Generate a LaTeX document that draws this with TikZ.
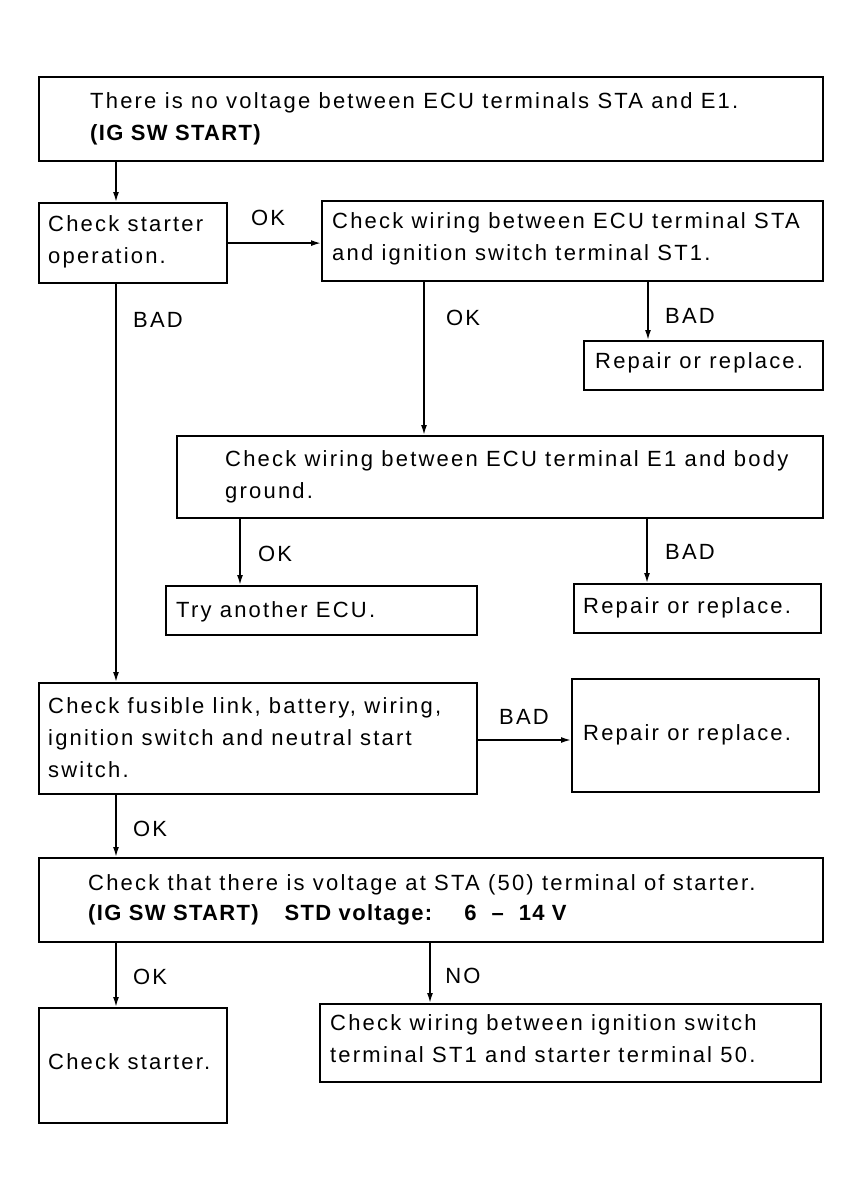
\documentclass[tikz,border=0pt]{standalone}
\usepackage{fontspec}
\setmainfont{Liberation Sans}[LetterSpace=10, BoldFeatures={LetterSpace=6}]
\usetikzlibrary{arrows.meta}
\begin{document}
\begin{tikzpicture}[x=1pt,y=-1pt,
 box/.style={draw, line width=2.2pt, rectangle, anchor=north west, inner sep=0pt},
 txt/.style={anchor=north west, align=left, inner sep=0pt, font=\fontsize{22}{32}\selectfont},
 lbl/.style={inner sep=0pt, font=\fontsize{22}{25}\selectfont},
 arr/.style={line width=1.6pt, -{Latex[length=10pt,width=6pt]}},
]
\useasboundingbox (0,0) rectangle (860,1199);
% boxes
\node[box, minimum width=784pt, minimum height=84pt] (top) at (38,76) {};
\node[box, minimum width=188pt, minimum height=80pt] (start) at (38,202) {};
\node[box, minimum width=501pt, minimum height=80pt] (sta) at (321,200) {};
\node[box, minimum width=239pt, minimum height=49pt] (rep1) at (583,340) {};
\node[box, minimum width=646pt, minimum height=82pt] (e1) at (176,435) {};
\node[box, minimum width=311pt, minimum height=49pt] (try) at (165,585) {};
\node[box, minimum width=247pt, minimum height=49pt] (rep2) at (573,583) {};
\node[box, minimum width=438pt, minimum height=111pt] (fus) at (38,682) {};
\node[box, minimum width=247pt, minimum height=113pt] (rep3) at (571,678) {};
\node[box, minimum width=784pt, minimum height=84pt] (sta50) at (38,857) {};
\node[box, minimum width=188pt, minimum height=115pt] (chk) at (38,1007) {};
\node[box, minimum width=501pt, minimum height=78pt] (ign) at (319,1003) {};
% texts
\node[txt] (topt) at (90,92) {There is no voltage between ECU terminals STA and E1.\\\textbf{(IG SW START)}};
\node[txt] (startt) at (48,215) {Check starter\\operation.};
\node[txt] (stat) at (332,212) {Check wiring between ECU terminal STA\\and ignition switch terminal ST1.};
\node[txt] (rep1t) at (595,352) {Repair or replace.};
\node[txt] (e1t) at (225,450) {Check wiring between ECU terminal E1 and body\\ground.};
\node[txt] (tryt) at (176,601) {Try another ECU.};
\node[txt] (rep2t) at (583,597) {Repair or replace.};
\node[txt] (fust) at (48,697) {Check fusible link, battery, wiring,\\ignition switch and neutral start\\switch.};
\node[txt] (rep3t) at (583,724) {Repair or replace.};
\node[txt, font=\fontsize{22}{30}\selectfont] (sta50t) at (88,874) {Check that there is voltage at STA (50) terminal of starter.\\\textbf{(IG SW START)\hspace{26pt}STD voltage:\hspace{32pt}6\hspace{15pt}--\hspace{15pt}14 V}};
\node[txt] (chkt) at (48,1053) {Check starter.};
\node[txt] (ignt) at (330,1014) {Check wiring between ignition switch\\terminal ST1 and starter terminal 50.};
% connectors
\draw[arr] ([xshift=78pt]top.south west) coordinate (c1) -- (c1 |- start.north);
\draw[arr] (start.east) -- (start.east -| sta.west);
\draw[arr] ([xshift=78pt]start.south west) coordinate (c2) -- (c2 |- fus.north);
\draw[arr] ([xshift=103pt]sta.south west) coordinate (c3) -- (c3 |- e1.north);
\draw[arr] ([xshift=327pt]sta.south west) coordinate (c4) -- (c4 |- rep1.north);
\draw[arr] ([xshift=64pt]e1.south west) coordinate (c5) -- (c5 |- try.north);
\draw[arr] ([xshift=471pt]e1.south west) coordinate (c6) -- (c6 |- rep2.north);
\draw[arr] ([yshift=-58pt]fus.north east) coordinate (c7) -- (c7 -| rep3.west);
\draw[arr] ([xshift=78pt]fus.south west) coordinate (c8) -- (c8 |- sta50.north);
\draw[arr] ([xshift=78pt]sta50.south west) coordinate (c9) -- (c9 |- chk.north);
\draw[arr] ([xshift=392pt]sta50.south west) coordinate (c10) -- (c10 |- ign.north);
% labels
\node[lbl] (l1) at (268,218) {OK};
\node[lbl] (l2) at (158,320) {BAD};
\node[lbl] (l3) at (463,318) {OK};
\node[lbl] (l4) at (690,316) {BAD};
\node[lbl] (l5) at (275,554) {OK};
\node[lbl] (l6) at (690,552) {BAD};
\node[lbl] (l7) at (524,717) {BAD};
\node[lbl] (l8) at (150,829) {OK};
\node[lbl] (l9) at (150,977) {OK};
\node[lbl] (l10) at (463,976) {NO};
\end{tikzpicture}
\end{document}
